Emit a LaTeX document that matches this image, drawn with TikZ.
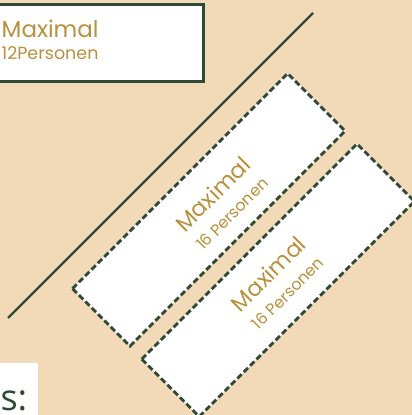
\documentclass[tikz,border=0pt]{standalone}
\usepackage{fontspec}
\setmainfont{Poppins}
\newfontfamily\headfont{Open Sans}
\definecolor{tan}{HTML}{F2D9B8}
\definecolor{gold}{HTML}{B9913E}
\definecolor{dkgreen}{HTML}{2E4A37}
\begin{document}
\begin{tikzpicture}[x=1pt,y=1pt,
  table/.style={rectangle, minimum width=301.5pt, minimum height=78.5pt, rotate=45, fill=white, draw=white, line width=2.8pt, inner sep=0pt},
  tableedge/.style={draw=dkgreen, line width=2.8pt, dash pattern=on 6pt off 3pt},
  label/.style={text=gold, align=center, rotate=45, inner sep=0pt, font=\fontsize{22.5}{24}\selectfont}]
\useasboundingbox[fill=tan] (0,0) rectangle (412,415);
% top-left box
\node[draw=dkgreen, fill=white, line width=2.7pt, rectangle, minimum width=214.5pt, minimum height=77.5pt, inner sep=0pt, anchor=north east] (box) at (204.5,412) {};
\node[anchor=base west, text=gold, inner sep=0pt, font=\fontsize{23}{24}\selectfont] (boxa) at (1.5,377.7) {Maximal};
\node[anchor=base west, text=gold, inner sep=0pt, font=\fontsize{17.5}{19}\selectfont] (boxb) at (1.5,355) {12Personen};
% diagonal wall line
\coordinate (w1) at (313,402);
\coordinate (w2) at (8,97);
\draw[dkgreen, line width=2.2pt] (w1) -- (w2);
% tables
\node[table] (t1) at (208.75,205.2) {};
\draw[tableedge] (t1.north west) -- (t1.north east) -- (t1.south east) -- (t1.south west) -- cycle;
\node[table] (t2) at (278.1,134.8) {};
\draw[tableedge] (t2.north west) -- (t2.north east) -- (t2.south east) -- (t2.south west) -- cycle;
\node[label] (l1) at (221.5,212) {Maximal\\[1pt]{\fontsize{16}{24}\selectfont 16 Personen}};
\node[label] (l2) at (277,132.5) {Maximal\\[1pt]{\fontsize{16}{24}\selectfont 16 Personen}};
% heading fragment
\fill[white] (0,0) rectangle (37.7,51.7);
\node[anchor=base east, text=dkgreen, inner sep=0pt, font=\headfont\fontsize{36}{40}\selectfont] (hd) at (27.5,4.3) {s:};
\end{tikzpicture}
\end{document}
